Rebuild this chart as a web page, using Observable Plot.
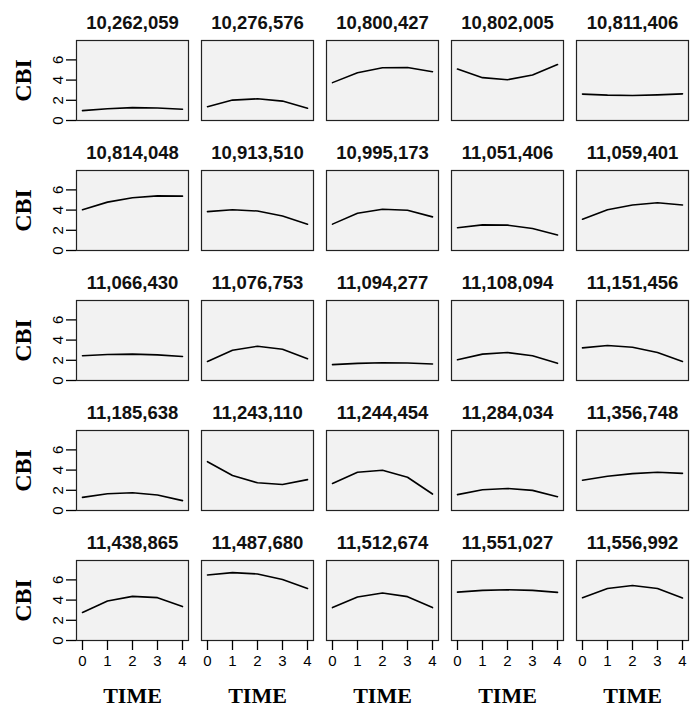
<!DOCTYPE html>
<html><head><meta charset="utf-8">
<script src="https://cdn.jsdelivr.net/npm/d3@7"></script>
<script src="https://cdn.jsdelivr.net/npm/@observablehq/plot@0.6"></script>
<style>body{margin:0;background:#fff}</style>
</head><body><div id="chart"></div>
<script>
const times = [0, 1, 2, 3, 4];
const yTicks = [0, 2, 4, 6];
const panelIds = [
  "10,262,059", "10,276,576", "10,800,427", "10,802,005", "10,811,406",
  "10,814,048", "10,913,510", "10,995,173", "11,051,406", "11,059,401",
  "11,066,430", "11,076,753", "11,094,277", "11,108,094", "11,151,456",
  "11,185,638", "11,243,110", "11,244,454", "11,284,034", "11,356,748",
  "11,438,865", "11,487,680", "11,512,674", "11,551,027", "11,556,992"
];
const cbi = [
  [0.98, 1.17, 1.27, 1.24, 1.11],
  [1.37, 2.02, 2.15, 1.92, 1.21],
  [3.75, 4.73, 5.22, 5.25, 4.83],
  [5.09, 4.24, 4.04, 4.50, 5.54],
  [2.61, 2.51, 2.48, 2.54, 2.64],
  [4.04, 4.79, 5.22, 5.41, 5.38],
  [3.85, 4.04, 3.91, 3.42, 2.61],
  [2.61, 3.68, 4.08, 3.98, 3.33],
  [2.25, 2.54, 2.51, 2.18, 1.53],
  [3.10, 4.04, 4.50, 4.73, 4.50],
  [2.45, 2.58, 2.61, 2.54, 2.38],
  [1.89, 3.00, 3.39, 3.10, 2.15],
  [1.57, 1.70, 1.76, 1.73, 1.63],
  [2.05, 2.61, 2.77, 2.45, 1.70],
  [3.23, 3.46, 3.29, 2.77, 1.89],
  [1.30, 1.66, 1.76, 1.53, 0.98],
  [4.83, 3.46, 2.74, 2.58, 3.06],
  [2.67, 3.78, 3.98, 3.29, 1.63],
  [1.57, 2.05, 2.18, 1.99, 1.37],
  [3.00, 3.39, 3.65, 3.78, 3.68],
  [2.77, 3.91, 4.37, 4.24, 3.36],
  [6.49, 6.72, 6.59, 6.03, 5.15],
  [3.26, 4.30, 4.70, 4.34, 3.26],
  [4.79, 4.96, 5.02, 4.96, 4.76],
  [4.24, 5.15, 5.45, 5.15, 4.21]
];
const nCols = 5;
const rowIdx = [0, 1, 2, 3, 4];
const colIdx = [0, 1, 2, 3, 4];

const data = panelIds.flatMap((id, i) => times.map((t, j) => ({
  id, col: i % nCols, row: Math.floor(i / nCols), time: t, cbi: cbi[i][j]
})));
const panels = panelIds.map((id, i) => ({id, col: i % nCols, row: Math.floor(i / nCols)}));
const rowLabels = rowIdx.map(r => ({row: r, col: 0, label: "CBI"}));
const colLabels = colIdx.map(c => ({row: 4, col: c, label: "TIME"}));

const chart = Plot.plot({
  width: 691, height: 707,
  marginLeft: 75, marginRight: 1, marginTop: 40, marginBottom: 67,
  fx: {domain: colIdx, padding: 0.103, axis: null},
  fy: {domain: rowIdx, padding: 0.385, axis: null},
  x: {domain: [-0.24, 4.24]},
  y: {domain: [0, 7.92]},
  style: {fontFamily: "'Liberation Sans', Arial, sans-serif", color: "#000", background: "#fff"},
  marks: [
    Plot.frame({fill: "#f2f2f2"}),
    Plot.line(data, {fx: "col", fy: "row", x: "time", y: "cbi", stroke: "#000", strokeWidth: 1.6}),
    Plot.frame({stroke: "#222", strokeWidth: 1.2}),
    Plot.axisX({ticks: times, tickSize: 10, tickPadding: 5, fontSize: 15, label: null, tickFormat: d => String(d), strokeWidth: 1.3}),
    Plot.axisY({ticks: yTicks, tickSize: 10, tickFormat: () => "", label: null, strokeWidth: 1.3}),
    Plot.axisY({ticks: yTicks, tickSize: 0, tickPadding: 18, rotate: -90, textAnchor: "middle", fontSize: 15, label: null}),
    Plot.text(panels, {fx: "col", fy: "row", text: "id", frameAnchor: "top", dy: -12, lineAnchor: "bottom",
      fontSize: 18.5, fontWeight: "bold", fill: "#111", letterSpacing: 0.9}),
    Plot.text(rowLabels, {fx: "col", fy: "row", text: "label", frameAnchor: "left", dx: -53, rotate: -90,
      textAnchor: "middle", lineAnchor: "middle", fontSize: 24, fontWeight: "bold", fontFamily: "'Liberation Serif', serif"}),
    Plot.text(colLabels, {fx: "col", fy: "row", text: "label", frameAnchor: "bottom", dy: 55,
      textAnchor: "middle", lineAnchor: "middle", fontSize: 22, fontWeight: "bold", fontFamily: "'Liberation Serif', serif"})
  ]
});
document.getElementById("chart").appendChild(chart);
</script>
</body></html>
